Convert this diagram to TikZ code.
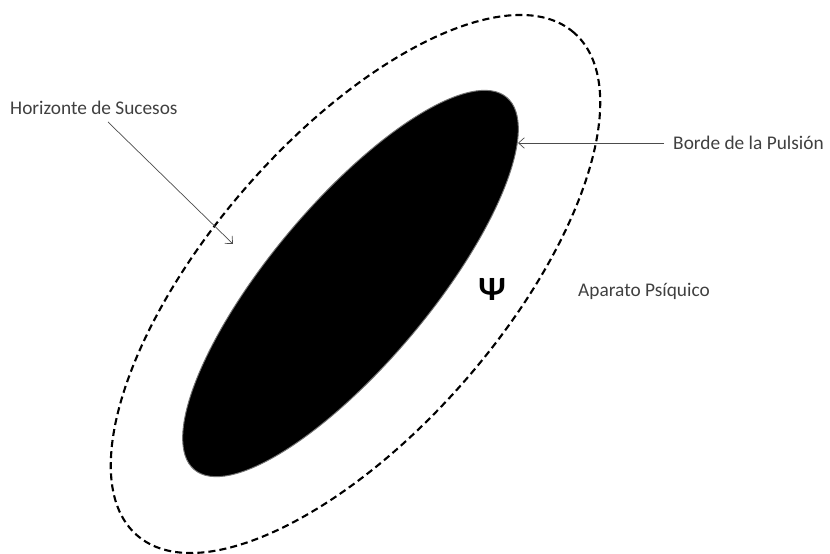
\documentclass[tikz,border=0pt]{standalone}
\usepackage{fontspec}
\setmainfont{Carlito}
\usetikzlibrary{arrows.meta}
\tikzset{
  lbl/.style={text=black!75, font=\fontsize{16.5}{19}\selectfont, inner sep=0pt},
  pointer/.style={draw=black!70, line width=0.6pt, -{Straight Barb[length=5pt,width=9pt]}},
  horizon/.style={draw=black, line width=1.8pt, dash pattern=on 6pt off 3.5pt},
  pulsion/.style={fill=black, draw=black!55, line width=0.8pt}
}
\begin{document}
\begin{tikzpicture}[x=0.03cm,y=0.03cm]
\useasboundingbox (0,0) rectangle (830,554);
% outer dashed ellipse (Horizonte de Sucesos)
\coordinate (oc) at (355.5,270);
\draw[horizon, rotate around={49:(oc)}] (oc) ellipse (333 and 146);
% inner black ellipse (Borde de la Pulsion)
\coordinate (ic) at (350.5,270.5);
\draw[pulsion, rotate around={50:(ic)}] (ic) ellipse (243 and 80);
% labels
\node[lbl, anchor=west] (hor) at (10,446) {Horizonte de Sucesos};
\node[lbl, anchor=west] (bor) at (673,411) {Borde de la Pulsión};
\node[lbl, anchor=west] (apa) at (578,263) {Aparato Psíquico};
\node[font=\fontsize{29}{31}\selectfont\bfseries, inner sep=0pt] (psi) at (492,265) {Ψ};
% pointers
\coordinate (horstart) at (108,432);
\coordinate (horend) at (233,310);
\coordinate (borstart) at (664,411);
\coordinate (borend) at (518,411);
\draw[pointer] (horstart) -- (horend);
\draw[pointer] (borstart) -- (borend);
\end{tikzpicture}
\end{document}
